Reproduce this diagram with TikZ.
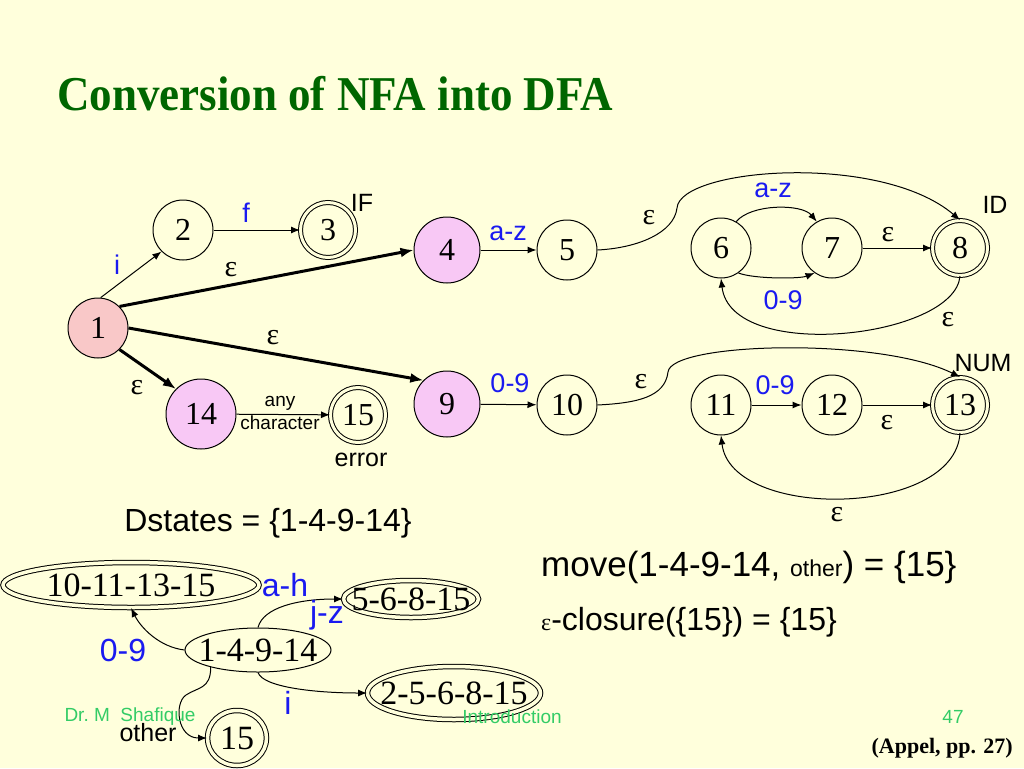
\documentclass[tikz,border=0pt]{standalone}
\usepackage{fontspec}
\setmainfont{Liberation Serif}
\setsansfont{Liberation Sans}
\usepackage{tikz}
\usetikzlibrary{arrows.meta,positioning,shapes.geometric}
\definecolor{bgyel}{HTML}{FFFFDC}
\definecolor{titgreen}{HTML}{006600}
\definecolor{lblue}{HTML}{1A1AF0}
\definecolor{ftgreen}{HTML}{33CC66}
\definecolor{pinkst}{HTML}{F9C8C8}
\definecolor{violst}{HTML}{F8C8F5}
\newcommand{\fsz}[1]{\fontsize{#1}{#1}\selectfont}
\newcommand{\ztxt}[1]{\makebox[0pt]{\raisebox{-0.5\height}[0pt][0pt]{#1}}}

\begin{document}
\begin{tikzpicture}[x=1pt,y=-1pt,
  st/.style={circle,draw,line width=1pt,minimum size=60pt,inner sep=0pt,font=\fsz{32}},
  acc/.style={st,double=bgyel,double distance=3pt,minimum size=55pt},
  ell/.style={ellipse,draw,line width=1pt,inner sep=0pt,font=\fsz{34}},
  dell/.style={ell,double=bgyel,double distance=3.5pt},
  ed/.style={-{Latex[length=9pt,width=7pt]},line width=1pt},
  thk/.style={-{Latex[length=13pt,width=10pt]},line width=3pt},
  lb/.style={text=lblue,font=\sffamily\fsz{27},inner sep=0pt},
  dlb/.style={lb,font=\sffamily\fsz{32}},
  eps/.style={font=\fsz{30},inner sep=0pt},
  tx/.style={font=\sffamily\fsz{25},inner sep=0pt},
  sm/.style={font=\sffamily\fsz{19},inner sep=0pt},
  ft/.style={sm,text=ftgreen}]
  \fill[bgyel] (0,0) rectangle (1024,768);
  \node(title)[anchor=west,text=titgreen,font=\bfseries\fsz{45},inner sep=0pt] at (57,94) {\scalebox{1}[1.08]{Conversion of NFA into DFA}};
  % NFA states
  \node(n1)[st,fill=pinkst] at (98,328) {1};
  \node(n2)[st] at (183,230) {2};
  \node(n3)[acc] at (328,230) {3};
  \node(n4)[st,fill=violst,minimum size=66pt] at (447,250) {4};
  \node(n5)[st] at (567,250) {5};
  \node(n6)[st] at (721,248) {6};
  \node(n7)[st] at (832,248) {7};
  \node(n8)[acc] at (960,248) {8};
  \node(n9)[st,fill=violst,minimum size=66pt] at (447,404) {9};
  \node(n10)[st] at (567,405) {10};
  \node(n11)[st] at (721,405) {11};
  \node(n12)[st] at (832,405) {12};
  \node(n13)[acc] at (960,405) {13};
  \node(n14)[st,fill=violst,minimum size=70pt] at (201,414) {14};
  \node(n15)[acc] at (358,415) {15};
  % NFA edges
  \draw[ed] (n1.85) -- (n2.225);
  \draw[thk] (n1.45) -- (n4.west);
  \draw[thk] (n1.east) -- (n9.135);
  \draw[thk] (n1.-45) -- (n14.135);
  \draw[ed] (n2) -- (n3);
  \draw[ed] (n14) -- (n15);
  \draw[ed] (n4) -- (n5);
  \draw[ed] (n9) -- (n10);
  \draw[ed] (n7) -- (n8);
  \draw[ed] (n11) -- (n12);
  \draw[ed] (n12) -- (n13);
  \coordinate(j1) at (677,208);
  \coordinate(j2) at (668,372);
  \draw[ed] (n5.east) .. controls +(40,-2) and +(-3,25) .. (j1) .. controls +(3,-40) and +(-80,-68) .. (n8.north);
  \draw[ed] (n10.east) .. controls +(40,-2) and +(-3,25) .. (j2) .. controls +(3,-30) and +(-80,-40) .. (n13.north);
  \draw[ed] (n6.60) .. controls +(15,-18) and +(-15,-18) .. (n7.120);
  \draw[ed] (n6.-55) .. controls +(15,6) and +(-15,6) .. (n7.-125);
  \draw[ed] (n8.south) .. controls +(-5,62) and +(10,85) .. (n6.south);
  \draw[ed] (n13.south) .. controls +(-5,85) and +(10,85) .. (n11.south);
  % NFA labels
  \node(lbif)[tx] at (362,203) {IF};
  \node(lbf)[lb] at (246,213) {f};
  \node(lbi)[lb] at (117,265) {i};
  \node(ep14)[eps] at (231,270) {ε};
  \node(ep19)[eps] at (273,338) {ε};
  \node(ep114)[eps] at (137,388) {ε};
  \node(lbany)[sm] at (280,403) {any};
  \node(lbchar)[sm,below=5pt of lbany] {character};
  \node(lberr)[tx] at (361,460) {error};
  \node(lbaz1)[lb] at (508,233) {a-z};
  \node(lbnum1)[lb] at (510,383) {0-9};
  \node(ep58)[eps] at (649,218) {ε};
  \node(lbaz2)[lb] at (773,190) {a-z};
  \node(ep78)[eps] at (888,235) {ε};
  \node(lbid)[tx] at (995,205) {ID};
  \node(lbnum2)[lb] at (783,300) {0-9};
  \node(ep86)[eps] at (948,320) {ε};
  \node(ep1013)[eps] at (641,382) {ε};
  \node(lbnum3)[lb] at (775,385) {0-9};
  \node(lbnum)[tx] at (983,363) {NUM};
  \node(ep1213)[eps] at (887,423) {ε};
  \node(ep1311)[eps] at (837,515) {ε};
  % subset construction
  \node(dst)[font=\sffamily\fsz{32},inner sep=0pt] at (268,523) {Dstates = \{1-4-9-14\}};
  \node(mv)[anchor=west,font=\sffamily\fsz{35},inner sep=0pt] at (541,567) {move(1-4-9-14, {\fsz{23}other}) = \{15\}};
  \node(cl)[anchor=west,font=\sffamily\fsz{32},inner sep=0pt] at (541,622) {{\rmfamily\fsz{24}ε}-closure(\{15\}) = \{15\}};
  \node(e1)[dell,minimum width=256pt,minimum height=45pt] at (131,585) {\ztxt{10-11-13-15}};
  \node(e2)[dell,minimum width=135pt,minimum height=37pt] at (411,599) {\ztxt{5-6-8-15}};
  \node(e3)[ell,minimum width=146pt,minimum height=44pt] at (258,650) {\ztxt{1-4-9-14}};
  \node(e4)[dell,minimum width=173pt,minimum height=53pt] at (454,693) {\ztxt{2-5-6-8-15}};
  \node(e5)[dell,minimum width=59pt,minimum height=55pt] at (237,738) {\ztxt{15}};
  \coordinate(j3) at (186,695);
  \draw[ed] (e3.west) .. controls +(-25,-3) and +(10,20) .. (e1.south);
  \draw[ed] (e3.north) .. controls +(5,-20) and +(-45,0) .. (e2.west);
  \draw[ed] (e3.south) .. controls +(5,15) and +(-50,0) .. (e4.west);
  \draw[ed] (e3.200) .. controls +(0,22) and +(12,-8) .. (j3) .. controls +(-12,8) and +(-30,0) .. (e5.west);
  \node(lbah)[dlb] at (285,585) {a-h};
  \node(lbjz)[dlb] at (327,615) {j-z};
  \node(lbnum4)[dlb] at (123,650) {0-9};
  \node(lbi2)[dlb] at (288,703) {i};
  \node(lboth)[tx] at (148,733) {other};
  % footer
  \node(ftl)[ft] at (130,717) {Dr.\ M\ \ Shafique};
  \node(ftc)[ft] at (512,717) {Introduction};
  \node(ftr)[ft] at (953,717) {47};
  \node(ref)[anchor=east,font=\bfseries\fsz{22},inner sep=0pt] at (1013,748) {(Appel, pp. 27)};
\end{tikzpicture}
\end{document}
